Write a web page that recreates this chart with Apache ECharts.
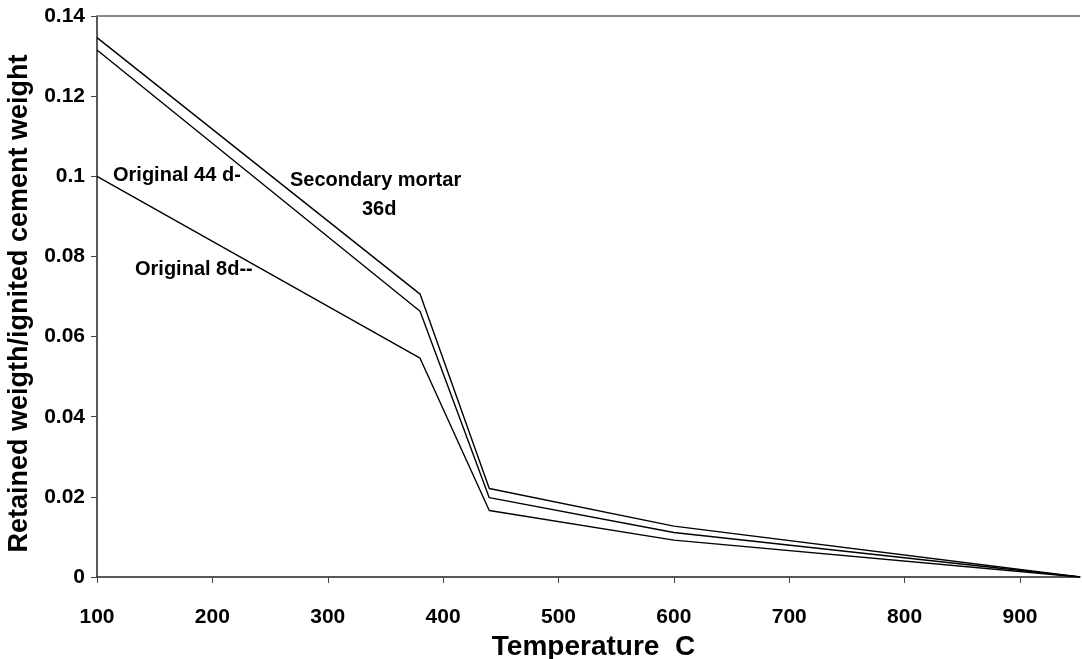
<!DOCTYPE html>
<html>
<head>
<meta charset="utf-8">
<script src="https://cdn.jsdelivr.net/npm/echarts@6/dist/echarts.min.js"></script>
<style>
html,body{margin:0;padding:0;background:#fff;}
#main{width:1082px;height:659px;}
</style>
</head>
<body>
<div id="main"></div>
<script>
// 温度 (C)
var temps = [100, 380, 440, 600, 952];
// 三条曲线
var secondary36d = [0.1346, 0.0706, 0.0221, 0.0127, 0];
var original44d = [0.1315, 0.0663, 0.0198, 0.0111, 0];
var original8d = [0.1000, 0.0546, 0.0166, 0.0092, 0];
var yTicks = [0, 0.02, 0.04, 0.06, 0.08, 0.1, 0.12, 0.14];

function pairs(ys){
	var out = [];
	for(var i = 0; i < temps.length; i++){
		out.push([temps[i], ys[i]]);
	}
	return out;
}

var chart = echarts.init(document.getElementById('main'));
var font = 'Liberation Sans, Arial, sans-serif';
var lineStyle = {color: '#000', width: 1.4};

var option = {
	animation: false,
	grid: {left: 97, right: 2, top: 16, bottom: 82, containLabel: false, outerBoundsMode: 'none'},
	xAxis: {
		type: 'value', min: 100, max: 952, interval: 100,
		axisLine: {lineStyle: {color: '#222', width: 1.5}},
		axisTick: {length: 6, lineStyle: {color: '#444'}},
		splitLine: {show: false},
		axisLabel: {color: '#000', fontSize: 21, fontWeight: 'bold', fontFamily: font, margin: 30, showMaxLabel: false},
		name: 'Temperature  C', nameLocation: 'middle', nameGap: 55,
		nameTextStyle: {color: '#000', fontSize: 28, fontWeight: 'bold', fontFamily: font, padding: [0, 0, 0, 10]}
	},
	yAxis: {
		type: 'value', min: 0, max: yTicks[yTicks.length - 1], interval: 0.02,
		axisLine: {show: true, lineStyle: {color: '#222', width: 1.5}},
		axisTick: {show: true, length: 6, lineStyle: {color: '#444'}},
		splitLine: {show: false},
		axisLabel: {color: '#000', fontSize: 21, fontWeight: 'bold', fontFamily: font, margin: 12},
		name: 'Retained weigth/ignited cement weight', nameLocation: 'middle', nameGap: 42,
		nameTextStyle: {color: '#000', fontSize: 27, fontWeight: 'bold', fontFamily: font, padding: [0, 14, 0, 0]}
	},
	series: [
		{name: 'Secondary mortar 36d', type: 'line', data: pairs(secondary36d), symbol: 'none', lineStyle: lineStyle,
			markLine: {silent: true, symbol: 'none', label: {show: false},
				lineStyle: {color: '#888', width: 2, type: 'solid'},
				data: [{yAxis: 0.14}]}},
		{name: 'Original 44 d', type: 'line', data: pairs(original44d), symbol: 'none', lineStyle: lineStyle},
		{name: 'Original 8d', type: 'line', data: pairs(original8d), symbol: 'none', lineStyle: lineStyle}
	],
	graphic: [
		{type: 'text', left: 113, top: 165, style: {text: 'Original 44 d-', font: 'bold 20px ' + font, fill: '#000'}},
		{type: 'text', left: 290, top: 170, style: {text: 'Secondary mortar', font: 'bold 20px ' + font, fill: '#000'}},
		{type: 'text', left: 362, top: 199, style: {text: '36d', font: 'bold 20px ' + font, fill: '#000'}},
		{type: 'text', left: 135, top: 259, style: {text: 'Original 8d--', font: 'bold 20px ' + font, fill: '#000'}}
	]
};
chart.setOption(option);
</script>
</body>
</html>
